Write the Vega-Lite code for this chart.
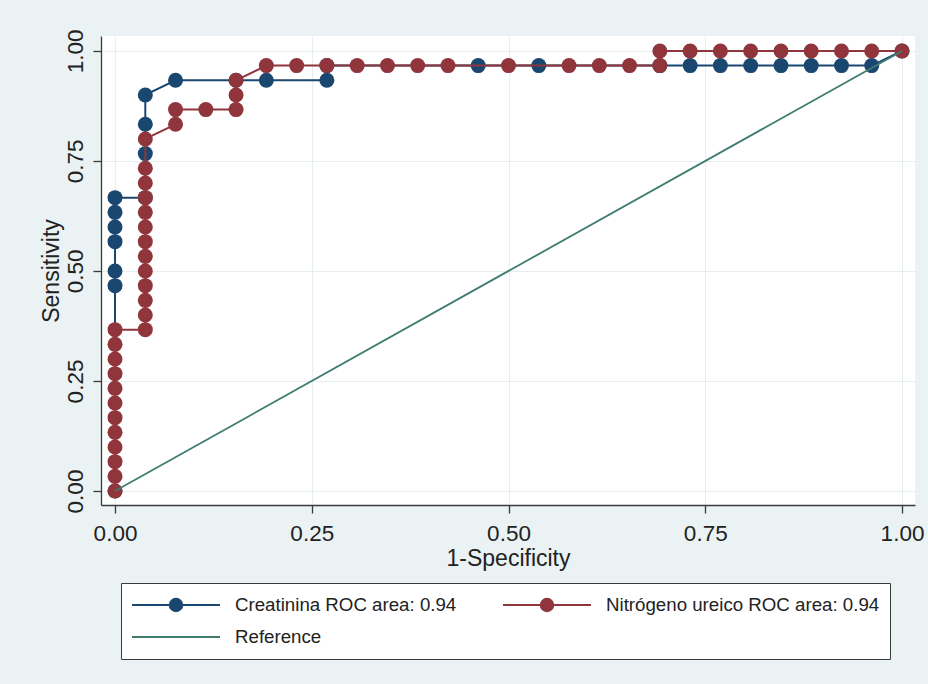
{
  "$schema": "https://vega.github.io/schema/vega-lite/v6.json",
  "width": 814,
  "height": 469,
  "autosize": {"type": "none"},
  "padding": {"left": 101, "top": 36, "right": 13, "bottom": 179},
  "background": "#eaf2f3",
  "config": {
    "view": {"fill": "white", "stroke": null},
    "font": "Liberation Sans"
  },
  "data": {
    "values": [
      {"series": "Creatinina ROC area: 0.94", "o": 1, "x": 0, "y": 0},
      {"series": "Creatinina ROC area: 0.94", "o": 2, "x": 0, "y": 0.4667},
      {"series": "Creatinina ROC area: 0.94", "o": 3, "x": 0, "y": 0.5},
      {"series": "Creatinina ROC area: 0.94", "o": 4, "x": 0, "y": 0.5667},
      {"series": "Creatinina ROC area: 0.94", "o": 5, "x": 0, "y": 0.6},
      {"series": "Creatinina ROC area: 0.94", "o": 6, "x": 0, "y": 0.6333},
      {"series": "Creatinina ROC area: 0.94", "o": 7, "x": 0, "y": 0.6667},
      {"series": "Creatinina ROC area: 0.94", "o": 8, "x": 0.0385, "y": 0.6667},
      {"series": "Creatinina ROC area: 0.94", "o": 9, "x": 0.0385, "y": 0.7667},
      {"series": "Creatinina ROC area: 0.94", "o": 10, "x": 0.0385, "y": 0.8333},
      {"series": "Creatinina ROC area: 0.94", "o": 11, "x": 0.0385, "y": 0.9},
      {"series": "Creatinina ROC area: 0.94", "o": 12, "x": 0.0769, "y": 0.9333},
      {"series": "Creatinina ROC area: 0.94", "o": 13, "x": 0.1538, "y": 0.9333},
      {"series": "Creatinina ROC area: 0.94", "o": 14, "x": 0.1923, "y": 0.9333},
      {"series": "Creatinina ROC area: 0.94", "o": 15, "x": 0.2692, "y": 0.9333},
      {"series": "Creatinina ROC area: 0.94", "o": 16, "x": 0.2692, "y": 0.9667},
      {"series": "Creatinina ROC area: 0.94", "o": 17, "x": 0.4615, "y": 0.9667},
      {"series": "Creatinina ROC area: 0.94", "o": 18, "x": 0.5385, "y": 0.9667},
      {"series": "Creatinina ROC area: 0.94", "o": 19, "x": 0.6923, "y": 0.9667},
      {"series": "Creatinina ROC area: 0.94", "o": 20, "x": 0.7308, "y": 0.9667},
      {"series": "Creatinina ROC area: 0.94", "o": 21, "x": 0.7692, "y": 0.9667},
      {"series": "Creatinina ROC area: 0.94", "o": 22, "x": 0.8077, "y": 0.9667},
      {"series": "Creatinina ROC area: 0.94", "o": 23, "x": 0.8462, "y": 0.9667},
      {"series": "Creatinina ROC area: 0.94", "o": 24, "x": 0.8846, "y": 0.9667},
      {"series": "Creatinina ROC area: 0.94", "o": 25, "x": 0.9231, "y": 0.9667},
      {"series": "Creatinina ROC area: 0.94", "o": 26, "x": 0.9615, "y": 0.9667},
      {"series": "Creatinina ROC area: 0.94", "o": 27, "x": 1, "y": 1},
      {"series": "Nitrógeno ureico ROC area: 0.94", "o": 1, "x": 0, "y": 0},
      {"series": "Nitrógeno ureico ROC area: 0.94", "o": 2, "x": 0, "y": 0.0333},
      {"series": "Nitrógeno ureico ROC area: 0.94", "o": 3, "x": 0, "y": 0.0667},
      {"series": "Nitrógeno ureico ROC area: 0.94", "o": 4, "x": 0, "y": 0.1},
      {"series": "Nitrógeno ureico ROC area: 0.94", "o": 5, "x": 0, "y": 0.1333},
      {"series": "Nitrógeno ureico ROC area: 0.94", "o": 6, "x": 0, "y": 0.1667},
      {"series": "Nitrógeno ureico ROC area: 0.94", "o": 7, "x": 0, "y": 0.2},
      {"series": "Nitrógeno ureico ROC area: 0.94", "o": 8, "x": 0, "y": 0.2333},
      {"series": "Nitrógeno ureico ROC area: 0.94", "o": 9, "x": 0, "y": 0.2667},
      {"series": "Nitrógeno ureico ROC area: 0.94", "o": 10, "x": 0, "y": 0.3},
      {"series": "Nitrógeno ureico ROC area: 0.94", "o": 11, "x": 0, "y": 0.3333},
      {"series": "Nitrógeno ureico ROC area: 0.94", "o": 12, "x": 0, "y": 0.3667},
      {"series": "Nitrógeno ureico ROC area: 0.94", "o": 13, "x": 0.0385, "y": 0.3667},
      {"series": "Nitrógeno ureico ROC area: 0.94", "o": 14, "x": 0.0385, "y": 0.4},
      {"series": "Nitrógeno ureico ROC area: 0.94", "o": 15, "x": 0.0385, "y": 0.4333},
      {"series": "Nitrógeno ureico ROC area: 0.94", "o": 16, "x": 0.0385, "y": 0.4667},
      {"series": "Nitrógeno ureico ROC area: 0.94", "o": 17, "x": 0.0385, "y": 0.5},
      {"series": "Nitrógeno ureico ROC area: 0.94", "o": 18, "x": 0.0385, "y": 0.5333},
      {"series": "Nitrógeno ureico ROC area: 0.94", "o": 19, "x": 0.0385, "y": 0.5667},
      {"series": "Nitrógeno ureico ROC area: 0.94", "o": 20, "x": 0.0385, "y": 0.6},
      {"series": "Nitrógeno ureico ROC area: 0.94", "o": 21, "x": 0.0385, "y": 0.6333},
      {"series": "Nitrógeno ureico ROC area: 0.94", "o": 22, "x": 0.0385, "y": 0.6667},
      {"series": "Nitrógeno ureico ROC area: 0.94", "o": 23, "x": 0.0385, "y": 0.7},
      {"series": "Nitrógeno ureico ROC area: 0.94", "o": 24, "x": 0.0385, "y": 0.7333},
      {"series": "Nitrógeno ureico ROC area: 0.94", "o": 25, "x": 0.0385, "y": 0.8},
      {"series": "Nitrógeno ureico ROC area: 0.94", "o": 26, "x": 0.0769, "y": 0.8333},
      {"series": "Nitrógeno ureico ROC area: 0.94", "o": 27, "x": 0.0769, "y": 0.8667},
      {"series": "Nitrógeno ureico ROC area: 0.94", "o": 28, "x": 0.1154, "y": 0.8667},
      {"series": "Nitrógeno ureico ROC area: 0.94", "o": 29, "x": 0.1538, "y": 0.8667},
      {"series": "Nitrógeno ureico ROC area: 0.94", "o": 30, "x": 0.1538, "y": 0.9},
      {"series": "Nitrógeno ureico ROC area: 0.94", "o": 31, "x": 0.1538, "y": 0.9333},
      {"series": "Nitrógeno ureico ROC area: 0.94", "o": 32, "x": 0.1923, "y": 0.9667},
      {"series": "Nitrógeno ureico ROC area: 0.94", "o": 33, "x": 0.2308, "y": 0.9667},
      {"series": "Nitrógeno ureico ROC area: 0.94", "o": 34, "x": 0.2692, "y": 0.9667},
      {"series": "Nitrógeno ureico ROC area: 0.94", "o": 35, "x": 0.3077, "y": 0.9667},
      {"series": "Nitrógeno ureico ROC area: 0.94", "o": 36, "x": 0.3462, "y": 0.9667},
      {"series": "Nitrógeno ureico ROC area: 0.94", "o": 37, "x": 0.3846, "y": 0.9667},
      {"series": "Nitrógeno ureico ROC area: 0.94", "o": 38, "x": 0.4231, "y": 0.9667},
      {"series": "Nitrógeno ureico ROC area: 0.94", "o": 39, "x": 0.5, "y": 0.9667},
      {"series": "Nitrógeno ureico ROC area: 0.94", "o": 40, "x": 0.5769, "y": 0.9667},
      {"series": "Nitrógeno ureico ROC area: 0.94", "o": 41, "x": 0.6154, "y": 0.9667},
      {"series": "Nitrógeno ureico ROC area: 0.94", "o": 42, "x": 0.6538, "y": 0.9667},
      {"series": "Nitrógeno ureico ROC area: 0.94", "o": 43, "x": 0.6923, "y": 0.9667},
      {"series": "Nitrógeno ureico ROC area: 0.94", "o": 44, "x": 0.6923, "y": 1},
      {"series": "Nitrógeno ureico ROC area: 0.94", "o": 45, "x": 0.7308, "y": 1},
      {"series": "Nitrógeno ureico ROC area: 0.94", "o": 46, "x": 0.7692, "y": 1},
      {"series": "Nitrógeno ureico ROC area: 0.94", "o": 47, "x": 0.8077, "y": 1},
      {"series": "Nitrógeno ureico ROC area: 0.94", "o": 48, "x": 0.8462, "y": 1},
      {"series": "Nitrógeno ureico ROC area: 0.94", "o": 49, "x": 0.8846, "y": 1},
      {"series": "Nitrógeno ureico ROC area: 0.94", "o": 50, "x": 0.9231, "y": 1},
      {"series": "Nitrógeno ureico ROC area: 0.94", "o": 51, "x": 0.9615, "y": 1},
      {"series": "Nitrógeno ureico ROC area: 0.94", "o": 52, "x": 1, "y": 1},
      {"series": "Reference", "o": 1, "x": 0, "y": 0},
      {"series": "Reference", "o": 2, "x": 1, "y": 1}
    ]
  },
  "encoding": {
    "x": {
      "field": "x",
      "type": "quantitative",
      "scale": {"domain": [-0.0178, 1.0165], "nice": false, "zero": false},
      "axis": {
        "values": [0, 0.25, 0.5, 0.75, 1],
        "format": ".2f",
        "title": "1-Specificity",
        "grid": true,
        "gridColor": "#e6eef0",
        "gridWidth": 1.2,
        "domainColor": "#3a3a3a",
        "domainWidth": 1.3,
        "tickColor": "#3a3a3a",
        "tickWidth": 1.3,
        "tickSize": 8,
        "labelFontSize": 22.5,
        "labelColor": "#222222",
        "labelPadding": 9,
        "titleFontSize": 23,
        "titleFontWeight": "normal",
        "titleColor": "#222222",
        "titlePadding": 3
      }
    },
    "y": {
      "field": "y",
      "type": "quantitative",
      "scale": {"domain": [-0.0318, 1.034], "nice": false, "zero": false},
      "axis": {
        "values": [0, 0.25, 0.5, 0.75, 1],
        "format": ".2f",
        "title": "Sensitivity",
        "grid": true,
        "gridColor": "#e6eef0",
        "gridWidth": 1.2,
        "domainColor": "#3a3a3a",
        "domainWidth": 1.3,
        "tickColor": "#3a3a3a",
        "tickWidth": 1.3,
        "tickSize": 8,
        "labelAngle": -90,
        "labelAlign": "center",
        "labelBaseline": "bottom",
        "labelFontSize": 22.5,
        "labelColor": "#222222",
        "labelPadding": 6,
        "titleFontSize": 23,
        "titleFontWeight": "normal",
        "titleColor": "#222222",
        "titlePadding": 1
      }
    },
    "color": {
      "field": "series",
      "type": "nominal",
      "scale": {
        "domain": ["Creatinina ROC area: 0.94", "Nitrógeno ureico ROC area: 0.94", "Reference"],
        "range": ["#1a476f", "#90353b", "#3f7d70"]
      },
      "legend": {
        "orient": "none",
        "legendX": 20,
        "legendY": 547,
        "direction": "horizontal",
        "columns": 2,
        "title": null,
        "fillColor": "white",
        "strokeColor": "#3a3a3a",
        "padding": 10,
        "labelFontSize": 18.7,
        "labelColor": "#222222",
        "labelLimit": 500,
        "symbolSize": 7744,
        "symbolStrokeWidth": 2,
        "clipHeight": 24,
        "rowPadding": 8,
        "columnPadding": 45,
        "labelOffset": 14,
        "symbolOffset": 0,
        "encode": {
          "symbols": {
            "update": {
              "shape": {"signal": "datum.value === 'Reference' ? 'M-1,0H1' : 'M-1,0H1M0.142,0C0.142,0.078,0.078,0.142,0,0.142C-0.078,0.142,-0.142,0.078,-0.142,0C-0.142,-0.078,-0.078,-0.142,0,-0.142C0.078,-0.142,0.142,-0.078,0.142,0Z'"},
              "fill": {"signal": "datum.value === 'Reference' ? 'transparent' : scale('color', datum.value)"},
              "stroke": {"signal": "scale('color', datum.value)"},
              "strokeWidth": {"value": 2},
              "opacity": {"value": 1}
            }
          }
        }
      }
    },
    "order": {"field": "o", "type": "quantitative"}
  },
  "layer": [
    {
      "transform": [{"filter": "datum.series === 'Creatinina ROC area: 0.94'"}],
      "mark": {"type": "line", "strokeWidth": 2}
    },
    {
      "transform": [{"filter": "datum.series === 'Creatinina ROC area: 0.94'"}],
      "mark": {"type": "circle", "size": 225, "opacity": 1}
    },
    {
      "transform": [{"filter": "datum.series === 'Nitrógeno ureico ROC area: 0.94'"}],
      "mark": {"type": "line", "strokeWidth": 2}
    },
    {
      "transform": [{"filter": "datum.series === 'Nitrógeno ureico ROC area: 0.94'"}],
      "mark": {"type": "circle", "size": 225, "opacity": 1}
    },
    {
      "transform": [{"filter": "datum.series === 'Reference'"}],
      "mark": {"type": "line", "strokeWidth": 1.8}
    }
  ]
}
